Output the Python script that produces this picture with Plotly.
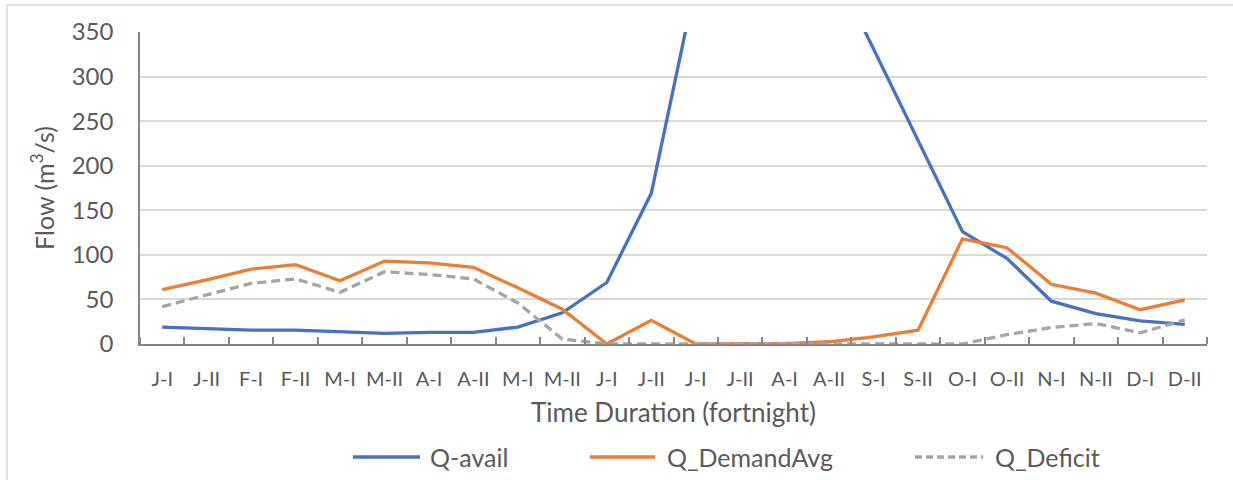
import plotly.graph_objects as go

# -----------------------
# DATA
# -----------------------
periods = ["J-I", "J-II", "F-I", "F-II", "M-I", "M-II", "A-I", "A-II",
           "M-I", "M-II", "J-I", "J-II", "J-I", "J-II", "A-I", "A-II",
           "S-I", "S-II", "O-I", "O-II", "N-I", "N-II", "D-I", "D-II"]

q_avail = [19, 17, 15.5, 15.5, 14, 12, 13, 13, 19, 35, 69, 169,
           405, 520, 480, 432, 331, 229, 126, 96, 48, 34, 26, 22]

q_demand_avg = [61, 72, 84, 89, 71, 93, 91, 86, 63, 39, 0, 26.5,
                0, 0, 0.5, 2.5, 8, 15.5, 118, 108, 67, 57, 38.5, 49.5]

q_deficit = [42, 55, 68, 73, 58, 81, 78, 73, 46, 5.5, 0, 0,
             0, 0, 0, 0, 0, 0, 0, 10.5, 18.5, 23, 12.5, 27]

series_names = ["Q-avail", "Q_DemandAvg", "Q_Deficit"]
y_ticks = [0, 50, 100, 150, 200, 250, 300, 350]

# -----------------------
# STYLE
# -----------------------
FONT = "Lato"
TXT = "#595959"
BLUE = "#4472C4"
ORANGE = "#ED7D31"
GREY = "#A5A5A5"

W, H = 1233, 480
L, R, T, B = 140, 1207, 32, 344   # plot area in pixels


def px(x, y):
    # pixel position -> paper coordinates
    return (x - L) / (R - L), (B - y) / (B - T)


x = list(range(len(periods)))

fig = go.Figure()
fig.add_trace(go.Scatter(x=x, y=q_avail, mode="lines", name=series_names[0],
                         line=dict(color=BLUE, width=3.3)))
fig.add_trace(go.Scatter(x=x, y=q_demand_avg, mode="lines", name=series_names[1],
                         line=dict(color=ORANGE, width=3.3)))
fig.add_trace(go.Scatter(x=x, y=q_deficit, mode="lines", name=series_names[2],
                         line=dict(color=GREY, width=3.3, dash="9px,5px")))

fig.update_layout(
    width=W, height=H,
    margin=dict(l=L, r=W - R, t=T, b=H - B),
    paper_bgcolor="white", plot_bgcolor="white",
    font=dict(family=FONT, color=TXT),
    showlegend=False,
)

fig.update_xaxes(
    range=[-0.5, len(periods) - 0.5],
    tickmode="array", tickvals=x, ticktext=periods,
    ticks="", ticklabelstandoff=16,
    tickfont=dict(size=20, color=TXT),
    showgrid=False, zeroline=False,
    showline=True, linecolor="#868686", linewidth=1.5,
    minor=dict(tickmode="array", tickvals=[i - 0.5 for i in range(len(periods) + 1)],
               ticks="inside", ticklen=7, tickcolor="#868686", tickwidth=1.5,
               showgrid=False),
    title=dict(text="Time Duration (fortnight)", font=dict(size=26, color=TXT),
               standoff=15),
)

fig.update_yaxes(
    range=[0, 350],
    tickmode="array", tickvals=y_ticks,
    ticks="", ticklabelstandoff=20,
    tickfont=dict(size=24, color=TXT),
    showgrid=True, gridcolor="#d9d9d9", gridwidth=1.5,
    zeroline=False,
    showline=True, linecolor="#868686", linewidth=1.5,
    title=dict(text="Flow (m<sup>3</sup>/s)", font=dict(size=25, color=TXT),
               standoff=10),
)

# outer chart border
bx0, by0 = px(7, 5)
bx1, by1 = px(1260, 500)
fig.add_shape(type="rect", xref="paper", yref="paper",
              x0=bx0, y0=by1, x1=bx1, y1=by0,
              line=dict(color="#d9d9d9", width=1.5), layer="below")

# legend drawn below the axis title
legend_items = [
    (series_names[0], BLUE, "solid", 353, 420, 428),
    (series_names[1], ORANGE, "solid", 590, 655, 665),
    (series_names[2], GREY, "dot", 915, 983, 993),
]
ly = 457
for name, color, dash, lx0, lx1, tx in legend_items:
    x0p, yp = px(lx0, ly)
    x1p, _ = px(lx1, ly)
    fig.add_shape(type="line", xref="paper", yref="paper",
                  x0=x0p, x1=x1p, y0=yp, y1=yp,
                  line=dict(color=color, width=3.3,
                            dash="7px,4px" if dash == "dot" else "solid"))
    txp, _ = px(tx, ly)
    fig.add_annotation(x=txp, y=yp, xref="paper", yref="paper",
                       text=name, showarrow=False, xanchor="left", yanchor="middle",
                       font=dict(size=25, color=TXT, family=FONT))

fig.write_html("out.html", config={"displayModeBar": False},
               post_script="document.body.style.margin='0';")
